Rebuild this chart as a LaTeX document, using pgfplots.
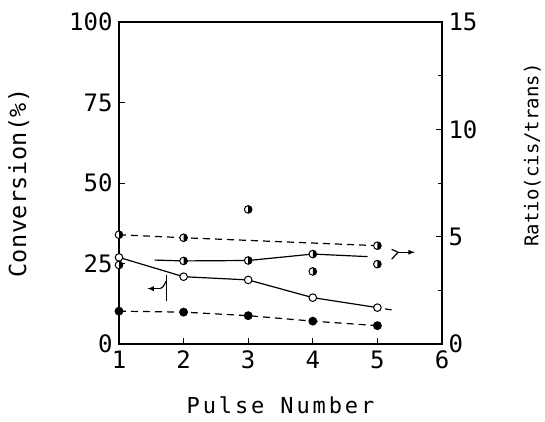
\documentclass[border=0pt]{standalone}
\usepackage{fontspec}
\setmainfont{DejaVu Sans Mono}
\newfontfamily\lblfont[LetterSpace=13]{DejaVu Sans Mono}
\newfontfamily\convfont[LetterSpace=2]{DejaVu Sans Mono}
\newfontfamily\tickfont{DejaVu Sans Mono}
\usepackage{pgfplots}
\pgfplotsset{compat=1.18}
\pgfdeclareplotmark{halfo}{%
  \pgfpathcircle{\pgfpointorigin}{\pgfplotmarksize}%
  \pgfsetfillcolor{white}\pgfusepath{fill,stroke}%
  \pgfpathmoveto{\pgfqpoint{0pt}{\pgfplotmarksize}}%
  \pgfpatharc{90}{-90}{\pgfplotmarksize}%
  \pgfpathclose
  \pgfsetfillcolor{black}\pgfusepath{fill}%
}
\pgfplotsset{
  common/.style={
    width=323pt, height=322pt, scale only axis,
    xmin=1, xmax=6,
    axis line style={line width=1.6pt},
    every tick/.style={black, line width=1pt},
    major tick length=6pt, minor tick length=4pt,
    tick label style={font=\tickfont\fontsize{24}{24}\selectfont},
    /pgf/number format/assume math mode=true,
  },
  dsh/.style={dash pattern=on 7pt off 5pt},
}
\begin{document}
\begin{tikzpicture}
\useasboundingbox (-119pt,-77pt) rectangle (426pt,344pt);
\begin{axis}[common,
  ymin=0, ymax=100,
  xtick={1,2,3,4,5,6}, xtick pos=bottom,
  ytick={0,25,50,75,100}, ytick pos=left,
  xticklabel style={yshift=-3pt},
  yticklabel style={xshift=-3pt},
  xlabel={Pulse Number},
  xlabel style={font=\lblfont\fontsize{22}{22}\selectfont, at={(axis description cs:0.5,-0.19)}, anchor=center},
  ylabel={Conversion(\%)},
  ylabel style={font=\convfont\fontsize{23.5}{23.5}\selectfont, at={(axis description cs:-0.31,0.5)}, anchor=center},
]
% open circles, solid line (left axis)
\addplot[black, line width=1.2pt, mark=*, mark size=3.8pt, mark options={fill=white, solid, line width=1pt}]
  coordinates {(1,26.9) (2,20.9) (3,19.9) (4,14.4) (5,11.3)};
\addplot[black, line width=1.2pt] coordinates {(5.12,10.9) (5.22,10.6)};
% filled circles, dashed line (left axis)
\addplot[black, line width=1.2pt, dsh, mark=*, mark size=3.8pt, mark options={fill=black, solid}]
  coordinates {(1,10.2) (2,9.9) (3,8.8) (4,7.1) (5,5.7)};
% arrow annotation pointing to left axis
\draw[line width=1.2pt] (axis cs:1.73,21.5) -- (axis cs:1.73,13.5);
\draw[line width=1.2pt] (axis cs:1.73,19.5) .. controls (axis cs:1.68,17.6) .. (axis cs:1.64,17.2);
\draw[line width=1.2pt, -latex] (axis cs:1.64,17.2) -- (axis cs:1.44,17.2);
% arrow annotation pointing to right axis
\draw[line width=1.2pt] (axis cs:5.22,29.4) -- (axis cs:5.32,28.5) -- (axis cs:5.22,26.3);
\draw[line width=1.2pt, -latex] (axis cs:5.32,28.5) -- (axis cs:5.58,28.5);
\end{axis}
\begin{axis}[common,
  ymin=0, ymax=15,
  axis x line=none, axis y line*=right,
  ytick={0,5,10,15}, minor ytick={2.5,7.5,12.5},
  yticklabel style={xshift=3pt},
  ylabel={Ratio(cis/trans)},
  ylabel style={font=\fontsize{19}{19}\selectfont, at={(axis description cs:1.28,0.587)}, anchor=center},
]
% ratio, dashed line with half-filled marks
\addplot[black, line width=1.2pt, dsh, mark=halfo, mark size=3.8pt, mark options={solid, line width=1pt}]
  coordinates {(1,5.09) (2,4.95) (5,4.58)};
% ratio, solid line
\addplot[black, line width=1.2pt] coordinates {(1.55,3.91) (2,3.87) (3,3.89) (4,4.19) (4.85,4.07)};
\addplot[black, only marks, mark=halfo, mark size=3.8pt, mark options={line width=1pt}]
  coordinates {(2,3.87) (3,3.89) (4,4.19)};
% other ratio points
\addplot[black, only marks, mark=halfo, mark size=3.8pt, mark options={line width=1pt}]
  coordinates {(1,3.68) (3,6.27) (4,3.38) (5,3.72)};
\end{axis}
\end{tikzpicture}
\end{document}
